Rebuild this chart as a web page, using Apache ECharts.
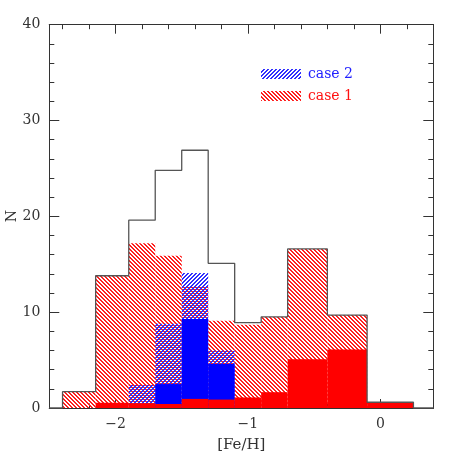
<!DOCTYPE html>
<html><head><meta charset="utf-8">
<script src="https://cdn.jsdelivr.net/npm/echarts@6/dist/echarts.min.js"></script>
<style>html,body{margin:0;padding:0;background:#fff}#c{width:457px;height:457px}</style>
</head><body><div id="c"></div>
<script>
// bin edges in [Fe/H]
var edges = [-2.4, -2.15, -1.9, -1.7, -1.5, -1.3, -1.1, -0.9, -0.7, -0.4, -0.1, 0.25];
// total sample (open outline)
var total = [1.7, 13.8, 19.6, 24.8, 26.9, 15.1, 8.9, 9.5, 16.6, 9.7, 0.6];
// case 1 hatched (red)
var case1 = [1.7, 13.8, 17.2, 15.9, 12.7, 9.1, 8.7, 9.5, 16.6, 9.7, 0.6];
// case 1 solid (red)
var case1Solid = [0, 0.55, 0.5, 0.42, 0.95, 0.88, 1.1, 1.65, 5.1, 6.1, 0.6];
// case 2 hatched (blue)
var case2 = [0, 0, 2.4, 8.8, 14.1, 6.0, 0, 0, 0, 0, 0];
// case 2 solid (blue)
var case2Solid = [0, 0, 0, 2.5, 9.3, 4.6, 0, 0, 0, 0, 0];
var xLabels = [-2, -1, 0];
var xMinor = [-2.4, -2.2, -1.8, -1.6, -1.4, -1.2, -0.8, -0.6, -0.4, -0.2, 0.2, 0.4];

function hatch(color, dir) {
  var c = document.createElement('canvas');
  c.width = 4; c.height = 4;
  var ctx = c.getContext('2d');
  ctx.fillStyle = color;
  for (var y = 0; y < 4; y++) for (var x = 0; x < 4; x++) {
    var k = dir > 0 ? ((x - y) % 4 + 4) % 4 : (x + y) % 4;
    if (k === 0 || k === 1) ctx.fillRect(x, y, 1, 1);
  }
  return { image: c, repeat: 'repeat' };
}
var redHatch = hatch('#ff2020', 1);
var blueHatch = hatch('#3030ff', -1);

function bins(vals) {
  var d = [];
  for (var i = 0; i < vals.length; i++) if (vals[i] > 0) d.push([edges[i], edges[i + 1], vals[i]]);
  return d;
}
function rectSeries(vals, fill, z) {
  return {
    type: 'custom', xAxisIndex: 0, yAxisIndex: 0, z: z,
    renderItem: function (params, api) {
      var p0 = api.coord([api.value(0), 0]);
      var p1 = api.coord([api.value(1), api.value(2)]);
      return { type: 'rect', shape: { x: p0[0], y: p1[1], width: p1[0] - p0[0], height: p0[1] - p1[1] },
        style: { fill: fill } };
    },
    encode: { x: [0, 1], y: 2 },
    data: bins(vals), silent: true
  };
}
var outline = [[-2.5, 0]];
for (var i = 0; i < total.length; i++) outline.push([edges[i], total[i]]);
outline.push([edges[edges.length - 1], 0]);
outline.push([0.4, 0]);

var font = 'DejaVu Serif';
var axisCol = '#333';
function xAx(pos, major, labels) {
  return {
    type: 'value', position: pos, min: -2.5, max: 0.4, gridIndex: 0,
    axisLine: { show: true, onZero: false, lineStyle: { color: axisCol, width: 1 } },
    splitLine: { show: false },
    axisTick: { show: true, inside: true, length: major ? 9 : 4.5, customValues: major ? xLabels : xMinor, lineStyle: { color: axisCol } },
    axisLabel: labels ? { show: true, customValues: xLabels, margin: 9, fontFamily: font, fontSize: 14, color: '#333',
      formatter: function (v) { return v < 0 ? '\u2212' + Math.abs(v) : String(v); } } : { show: false },
    name: labels ? '[Fe/H]' : '', nameLocation: 'middle', nameGap: 30,
    nameTextStyle: { fontFamily: font, fontSize: 15, color: '#333' }
  };
}
function yAx(pos, labels) {
  return {
    type: 'value', position: pos, min: 0, max: 40, interval: 10, gridIndex: 0,
    axisLine: { show: true, onZero: false, lineStyle: { color: axisCol, width: 1 } },
    splitLine: { show: false },
    axisTick: { show: true, inside: true, length: 10, lineStyle: { color: axisCol } },
    minorTick: { show: true, splitNumber: 5, length: 5, lineStyle: { color: axisCol } },
    axisLabel: labels ? { show: true, margin: 9, fontFamily: font, fontSize: 14, color: '#333' } : { show: false },
    name: labels ? 'N' : '', nameLocation: 'middle', nameGap: 32, nameRotate: 90,
    nameTextStyle: { fontFamily: font, fontSize: 14, color: '#333', padding: [0, 0, 0, 0] }
  };
}

var chart = echarts.init(document.getElementById('c'), null, { renderer: 'canvas' });
chart.setOption({
  animation: false,
  grid: { left: 49.3, right: 23.7, top: 24.7, bottom: 49, containLabel: false, outerBoundsMode: 'none' },
  xAxis: [xAx('bottom', true, true), xAx('bottom', false, false), xAx('top', true, false), xAx('top', false, false)],
  yAxis: [yAx('left', false), yAx('right', false),
    Object.assign(yAx('left', true), { axisLine: { show: false }, axisTick: { show: false }, minorTick: { show: false }, name: '' })],
  series: [
    rectSeries(case1, redHatch, 1),
    rectSeries(case2, blueHatch, 2),
    rectSeries(case2Solid, '#0000ff', 3),
    rectSeries(case1Solid, '#ff0000', 4),
    { type: 'line', step: 'end', data: outline, symbol: 'none', z: 5, silent: true,
      lineStyle: { color: '#555', width: 1.3 } }
  ],
  graphic: [
    { type: 'text', x: 12, y: 216, rotation: Math.PI / 2, style: { text: 'N', fill: '#333', font: '14px "DejaVu Serif"', textAlign: 'center', textVerticalAlign: 'middle' } },
    { type: 'rect', shape: { x: 261, y: 69, width: 40, height: 10 }, style: { fill: blueHatch } },
    { type: 'text', x: 308, y: 74, style: { text: 'case 2', fill: '#2020ff', font: '14px "DejaVu Serif"', textVerticalAlign: 'middle' } },
    { type: 'rect', shape: { x: 261, y: 91, width: 40, height: 10 }, style: { fill: redHatch } },
    { type: 'text', x: 308, y: 96, style: { text: 'case 1', fill: '#ff1010', font: '14px "DejaVu Serif"', textVerticalAlign: 'middle' } }
  ]
});
</script></body></html>
